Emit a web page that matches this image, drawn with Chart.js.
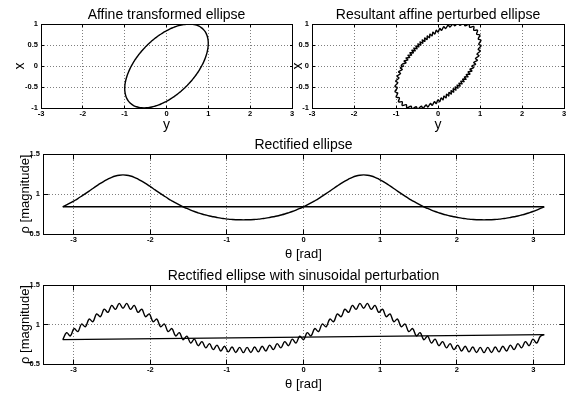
<!DOCTYPE html>
<html>
<head>
<meta charset="utf-8">
<script src="https://cdn.jsdelivr.net/npm/chart.js@4.4.1/dist/chart.umd.min.js"></script>
<style>
html,body{margin:0;padding:0;background:#fff;}
#wrap{position:relative;width:572px;height:394px;overflow:hidden;background:#fff;}
canvas{position:absolute;left:0;top:0;}
</style>
</head>
<body>
<div id="wrap">
<canvas id="cA" width="572" height="394"></canvas>
<canvas id="cB" width="572" height="394"></canvas>
<canvas id="cC" width="572" height="394"></canvas>
<canvas id="cD" width="572" height="394"></canvas>
</div>
<script>
// ---------------- data ----------------
const titles = ["Affine transformed ellipse", "Resultant affine perturbed ellipse",
                "Rectified ellipse", "Rectified ellipse with sinusoidal perturbation"];
const xLabels = ["y", "y", "\u03B8 [rad]", "\u03B8 [rad]"];
const yLabels = ["x", "x", "\u03C1 [magnitude]", "\u03C1 [magnitude]"];
const ellXTicks = [-3, -2, -1, 0, 1, 2, 3];
const ellYTicks = [-1, -0.5, 0, 0.5, 1];
const rectXTicks = [-3, -2, -1, 0, 1, 2, 3];
const rectYTicks = [0.5, 1, 1.5];

// polar angle samples [rad]
const theta = [-3.142,-3.092,-3.043,-2.994,-2.945,-2.896,-2.847,-2.798,-2.749,-2.700,-2.651,-2.601,-2.552,-2.503,-2.454,-2.405,
-2.356,-2.307,-2.258,-2.209,-2.160,-2.111,-2.062,-2.013,-1.963,-1.914,-1.865,-1.816,-1.767,-1.718,-1.669,-1.620,
-1.571,-1.522,-1.473,-1.424,-1.374,-1.325,-1.276,-1.227,-1.178,-1.129,-1.080,-1.031,-0.982,-0.933,-0.884,-0.834,
-0.785,-0.736,-0.687,-0.638,-0.589,-0.540,-0.491,-0.442,-0.393,-0.344,-0.295,-0.245,-0.196,-0.147,-0.098,-0.049,
0.000,
0.049,0.098,0.147,0.196,0.245,0.295,0.344,0.393,0.442,0.491,0.540,0.589,0.638,0.687,0.736,0.785,
0.834,0.884,0.933,0.982,1.031,1.080,1.129,1.178,1.227,1.276,1.325,1.374,1.424,1.473,1.522,1.571,
1.620,1.669,1.718,1.767,1.816,1.865,1.914,1.963,2.013,2.062,2.111,2.160,2.209,2.258,2.307,2.356,
2.405,2.454,2.503,2.552,2.601,2.651,2.700,2.749,2.798,2.847,2.896,2.945,2.994,3.043,3.092,3.142];

// rectified ellipse magnitude
const rho = [0.840,0.863,0.888,0.915,0.943,0.973,1.004,1.036,1.069,1.101,1.132,1.161,1.187,1.209,1.225,1.235,1.239,
1.235,1.225,1.209,1.187,1.161,1.132,1.101,1.069,1.036,1.004,0.973,0.943,0.915,0.888,0.863,0.840,
0.819,0.799,0.781,0.765,0.750,0.737,0.725,0.715,0.706,0.698,0.692,0.686,0.682,0.679,0.678,0.677,
0.678,0.679,0.682,0.686,0.692,0.698,0.706,0.715,0.725,0.737,0.750,0.765,0.781,0.799,0.819,0.840,
0.863,0.888,0.915,0.943,0.973,1.004,1.036,1.069,1.101,1.132,1.161,1.187,1.209,1.225,1.235,1.239,
1.235,1.225,1.209,1.187,1.161,1.132,1.101,1.069,1.036,1.004,0.973,0.943,0.915,0.888,0.863,0.840,
0.819,0.799,0.781,0.765,0.750,0.737,0.725,0.715,0.706,0.698,0.692,0.686,0.682,0.679,0.678,0.677,
0.678,0.679,0.682,0.686,0.692,0.698,0.706,0.715,0.725,0.737,0.750,0.765,0.781,0.799,0.819,0.840];

// rectified ellipse with sinusoidal perturbation (peaks / troughs)
const rhoPert = [0.808,0.896,0.855,0.948,0.910,1.006,0.971,1.069,1.036,1.134,1.099,1.194,1.154,1.242,1.192,1.268,1.206,
1.268,1.192,1.242,1.154,1.194,1.099,1.134,1.036,1.069,0.971,1.006,0.910,0.948,0.855,0.896,0.807,
0.852,0.766,0.814,0.732,0.783,0.704,0.758,0.682,0.739,0.665,0.725,0.653,0.715,0.646,0.711,0.644,
0.711,0.646,0.715,0.653,0.725,0.665,0.739,0.682,0.758,0.704,0.783,0.732,0.814,0.766,0.852,0.807,
0.896,0.855,0.948,0.910,1.006,0.971,1.069,1.036,1.134,1.099,1.194,1.154,1.242,1.192,1.268,1.206,
1.268,1.192,1.242,1.154,1.194,1.099,1.134,1.036,1.069,0.971,1.006,0.910,0.948,0.855,0.896,0.807,
0.852,0.766,0.814,0.732,0.783,0.704,0.758,0.682,0.739,0.665,0.725,0.653,0.715,0.646,0.711,0.644,
0.711,0.646,0.715,0.653,0.725,0.665,0.739,0.682,0.758,0.704,0.783,0.732,0.814,0.766,0.852,0.872];

// ---------------- chart construction ----------------
Chart.defaults.font.family = "'Liberation Sans', Arial, Helvetica, sans-serif";
Chart.defaults.color = '#000';

const tickFont = { size: 7.5, weight: 'bold' };
const gridColor = 'rgba(0,0,0,0.5)';

function alignPx(p) { return Math.round(p - 0.5) + 0.5; }

const boxPlugin = {
  id: 'matlabBox',
  afterDraw(chart, args, o) {
    const { ctx, chartArea: ca } = chart;
    const xs = chart.scales.x, ys = chart.scales.y;
    const tl = o.tickLen || 3;
    const L = alignPx(ca.left), R = alignPx(ca.right), T = alignPx(ca.top), B = alignPx(ca.bottom);
    ctx.save();
    ctx.strokeStyle = '#000';
    ctx.lineWidth = 1;
    ctx.setLineDash([]);
    ctx.beginPath();
    xs.ticks.forEach(t => {
      const p = alignPx(xs.getPixelForValue(t.value));
      ctx.moveTo(p, B); ctx.lineTo(p, B - tl);
      ctx.moveTo(p, T); ctx.lineTo(p, T + tl);
    });
    ys.ticks.forEach(t => {
      const p = alignPx(ys.getPixelForValue(t.value));
      ctx.moveTo(L, p); ctx.lineTo(L + tl, p);
      ctx.moveTo(R, p); ctx.lineTo(R - tl, p);
    });
    ctx.stroke();
    ctx.strokeRect(L, T, R - L, B - T);
    ctx.restore();
  }
};

function lineDs(points, tension) {
  return { data: points, showLine: true, borderColor: '#000', borderWidth: 1.4,
           pointRadius: 0, pointHoverRadius: 0, tension: tension, fill: false };
}

function makeChart(id, o) {
  return new Chart(document.getElementById(id), {
    type: 'scatter',
    data: { datasets: o.datasets },
    options: {
      responsive: false, animation: false, devicePixelRatio: 1, events: [],
      layout: { padding: o.pad },
      plugins: {
        legend: { display: false },
        tooltip: { enabled: false },
        title: { display: true, text: o.title, fullSize: false, color: '#000',
                 font: { size: 14, weight: 'normal' }, padding: o.titlePad },
        matlabBox: { tickLen: o.tickLen }
      },
      scales: {
        x: {
          type: 'linear', position: 'bottom', min: o.xr[0], max: o.xr[1],
          afterBuildTicks: s => { s.ticks = o.xticks.map(v => ({ value: v })); },
          afterFit: s => { s.height = o.xh; s.paddingLeft = 0; s.paddingRight = 0; s.paddingTop = 0; s.paddingBottom = 0; },
          ticks: { padding: 1, font: tickFont, color: '#000', maxRotation: 0, minRotation: 0,
                   autoSkip: false, callback: v => String(v) },
          grid: { color: gridColor, lineWidth: 1, drawTicks: false, borderDash: [1, 2] },
          border: { display: false, dash: [1, 2] },
          title: { display: true, text: o.xlabel, color: '#000', font: { size: o.xlSize }, padding: 0 }
        },
        y: {
          type: 'linear', position: 'left', min: o.yr[0], max: o.yr[1],
          afterBuildTicks: s => { s.ticks = o.yticks.map(v => ({ value: v })); },
          afterFit: s => { s.width = o.yw; s.paddingLeft = 0; s.paddingRight = 0; s.paddingTop = 0; s.paddingBottom = 0; },
          ticks: { padding: 3, font: tickFont, color: '#000', autoSkip: false, callback: v => String(v) },
          grid: { color: gridColor, lineWidth: 1, drawTicks: false, borderDash: [1, 2] },
          border: { display: false, dash: [1, 2] },
          title: { display: true, text: o.ylabel, color: '#000', font: { size: o.ylSize }, padding: 0 }
        }
      }
    },
    plugins: [boxPlugin]
  });
}

// Cartesian views of the polar data
const ellipsePts = theta.map((t, i) => ({ x: rho[i] * Math.cos(t), y: rho[i] * Math.sin(t) }));
const pertEllipsePts = theta.map((t, i) => ({ x: rhoPert[i] * Math.cos(t), y: rhoPert[i] * Math.sin(t) }));
pertEllipsePts.push({ x: pertEllipsePts[0].x, y: pertEllipsePts[0].y });
const rectPts = theta.map((t, i) => ({ x: t, y: rho[i] }));
const rectClose = [{ x: theta[theta.length - 1], y: rho[rho.length - 1] }, { x: theta[0], y: rho[0] }];
const pertPts = theta.map((t, i) => ({ x: t, y: rhoPert[i] }));
const pertClose = [{ x: theta[theta.length - 1], y: rhoPert[rhoPert.length - 1] }, { x: theta[0], y: rhoPert[0] }];

makeChart('cA', {
  datasets: [lineDs(ellipsePts, 0.4)],
  title: titles[0], xlabel: xLabels[0], ylabel: yLabels[0], xlSize: 14, ylSize: 14,
  xr: [-3, 3], yr: [-1, 1], xticks: ellXTicks, yticks: ellYTicks,
  pad: { left: 11.6, top: 0, right: 280, bottom: 260.1 }, titlePad: { top: 6.4, bottom: 0.8 },
  yw: 29.4, xh: 25.9, tickLen: 2.5
});
makeChart('cB', {
  datasets: [lineDs(pertEllipsePts, 0.4)],
  title: titles[1], xlabel: xLabels[1], ylabel: yLabels[1], xlSize: 14, ylSize: 14,
  xr: [-3, 3], yr: [-1, 1], xticks: ellXTicks, yticks: ellYTicks,
  pad: { left: 289.6, top: 0, right: 8, bottom: 260.1 }, titlePad: { top: 6.4, bottom: 0.8 },
  yw: 22.4, xh: 25.9, tickLen: 2.5
});
makeChart('cC', {
  datasets: [lineDs(rectPts, 0.4), lineDs(rectClose, 0)],
  title: titles[2], xlabel: xLabels[2], ylabel: yLabels[2], xlSize: 13, ylSize: 13,
  xr: [-3.4, 3.4], yr: [0.5, 1.5], xticks: rectXTicks, yticks: rectYTicks,
  pad: { left: 18, top: 130, right: 8, bottom: 132.2 }, titlePad: { top: 7.2, bottom: 0 },
  yw: 25, xh: 27.8, tickLen: 5
});
makeChart('cD', {
  datasets: [lineDs(pertPts, 0.4), lineDs(pertClose, 0)],
  title: titles[3], xlabel: xLabels[3], ylabel: yLabels[3], xlSize: 13, ylSize: 13,
  xr: [-3.4, 3.4], yr: [0.5, 1.5], xticks: rectXTicks, yticks: rectYTicks,
  pad: { left: 18, top: 260, right: 8, bottom: 2.2 }, titlePad: { top: 8.2, bottom: 0 },
  yw: 25, xh: 27.8, tickLen: 5
});
</script>
</body>
</html>
